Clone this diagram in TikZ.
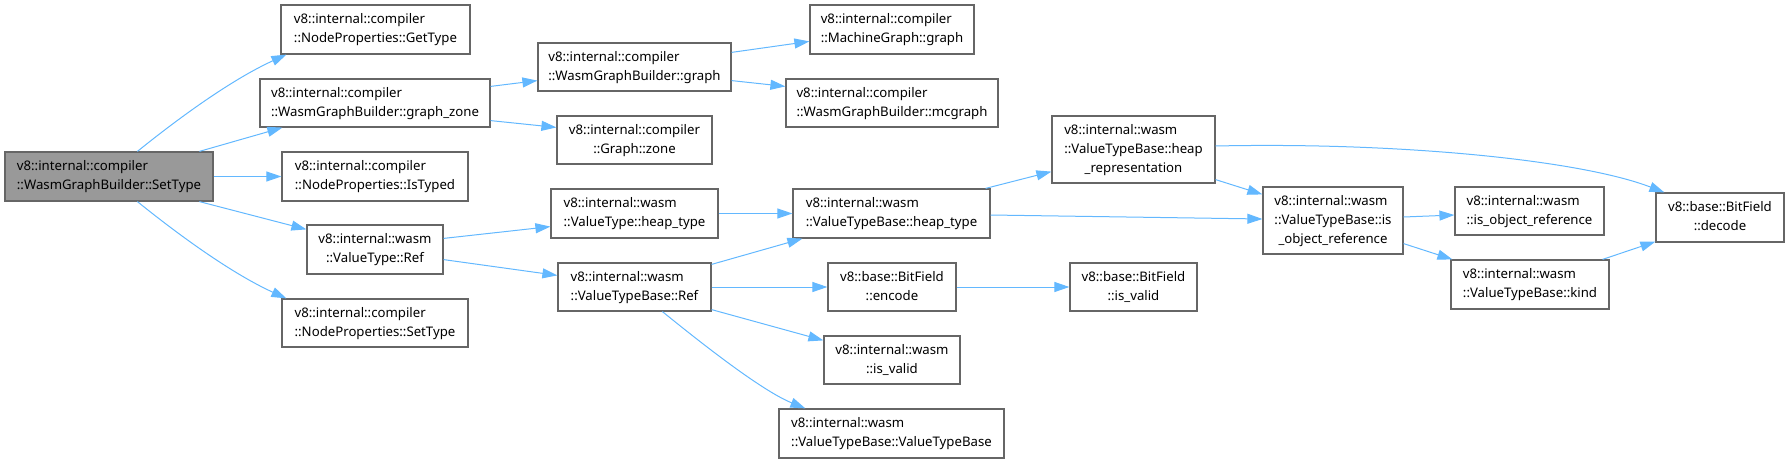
\documentclass[tikz,border=0pt]{standalone}
\usepackage{fontspec}
\setmainfont{Noto Sans}
\usetikzlibrary{arrows.meta,calc}
\definecolor{edgeblue}{HTML}{63B8FF}
\definecolor{boxborder}{HTML}{666666}
\definecolor{mainfill}{HTML}{999999}
\newcommand{\lblii}[2]{\begin{tabular}{@{}l@{}}#1\\\multicolumn{1}{@{}c@{}}{#2}\end{tabular}}
\newcommand{\lbliii}[3]{\begin{tabular}{@{}l@{}}#1\\#2\\\multicolumn{1}{@{}c@{}}{#3}\end{tabular}}
\tikzset{
  fnbox/.style={draw=boxborder, line width=1.2pt, fill=white, inner sep=0pt, minimum height=48pt,
    font=\fontsize{13.2}{19}\selectfont, text=black},
  mainbox/.style={fnbox, fill=mainfill},
  callarrow/.style={draw=edgeblue, line width=1pt, -{Triangle[length=15pt,width=10pt]}, color=edgeblue},
}
\begin{document}
\begin{tikzpicture}[x=1pt,y=-1pt]
\useasboundingbox (0,0) rectangle (1789,463);
\renewcommand{\arraystretch}{1}
% nodes
\node[mainbox, minimum width=208pt, minimum height=49pt] (main) at (109,176.5) {\lblii{v8::internal::compiler}{::WasmGraphBuilder::SetType}};
\node[fnbox, minimum width=189pt, minimum height=49pt] (getType) at (375.5,29.5) {\lblii{v8::internal::compiler}{::NodeProperties::GetType}};
\node[fnbox, minimum width=230pt] (graphZone) at (375,103) {\lblii{v8::internal::compiler}{::WasmGraphBuilder::graph\_zone}};
\node[fnbox, minimum width=186pt, minimum height=49pt] (isTyped) at (375,176.5) {\lblii{v8::internal::compiler}{::NodeProperties::IsTyped}};
\node[fnbox, minimum width=136pt, minimum height=49pt] (vtRef) at (375,249.5) {\lblii{v8::internal::wasm}{::ValueType::Ref}};
\node[fnbox, minimum width=186pt] (npSetType) at (375,323) {\lblii{v8::internal::compiler}{::NodeProperties::SetType}};
\node[fnbox, minimum width=193pt] (wgbGraph) at (634.5,67) {\lblii{v8::internal::compiler}{::WasmGraphBuilder::graph}};
\node[fnbox, minimum width=164pt, minimum height=49pt] (mgGraph) at (892,29.5) {\lblii{v8::internal::compiler}{::MachineGraph::graph}};
\node[fnbox, minimum width=212pt] (mcgraph) at (892,103) {\lblii{v8::internal::compiler}{::WasmGraphBuilder::mcgraph}};
\node[fnbox, minimum width=155pt] (gZone) at (634.5,140) {\lblii{v8::internal::compiler}{::Graph::zone}};
\node[fnbox, minimum width=167pt, minimum height=49pt] (vtHeapType) at (634.5,213.5) {\lblii{v8::internal::wasm}{::ValueType::heap\_type}};
\node[fnbox, minimum width=197pt, minimum height=49pt] (vtbHeapType) at (891.5,213.5) {\lblii{v8::internal::wasm}{::ValueTypeBase::heap\_type}};
\node[fnbox, minimum width=153pt] (vtbRef) at (634.5,287) {\lblii{v8::internal::wasm}{::ValueTypeBase::Ref}};
\node[fnbox, minimum width=128pt] (encode) at (892,287) {\lblii{v8::base::BitField}{::encode}};
\node[fnbox, minimum width=136pt] (isValid) at (892,360) {\lblii{v8::internal::wasm}{::is\_valid}};
\node[fnbox, minimum width=225pt, minimum height=49pt] (vtbVTB) at (891.5,433.5) {\lblii{v8::internal::wasm}{::ValueTypeBase::ValueTypeBase}};
\node[fnbox, minimum width=163pt, minimum height=67pt] (heapRep) at (1133.5,149.5) {\lbliii{v8::internal::wasm}{::ValueTypeBase::heap}{\_representation}};
\node[fnbox, minimum width=140pt, minimum height=67pt] (vtbIsObj) at (1333,220.5) {\lbliii{v8::internal::wasm}{::ValueTypeBase::is}{\_object\_reference}};
\node[fnbox, minimum width=127pt] (bfIsValid) at (1133.5,287) {\lblii{v8::base::BitField}{::is\_valid}};
\node[fnbox, minimum width=149pt] (isObjRef) at (1529.5,211) {\lblii{v8::internal::wasm}{::is\_object\_reference}};
\node[fnbox, minimum width=158pt, minimum height=49pt] (kind) at (1530,284.5) {\lblii{v8::internal::wasm}{::ValueTypeBase::kind}};
\node[fnbox, minimum width=128pt, minimum height=49pt] (decode) at (1720,217.5) {\lblii{v8::base::BitField}{::decode}};
% edges
\draw[callarrow] ($(main.north west)+(133,0)$) .. controls (185,113) and (235,78) .. ($(getType.south west)+(6,0)$);
\draw[callarrow] ($(main.north west)+(195,0)$) -- ($(graphZone.south west)+(23,0)$);
\draw[callarrow] (main.east) -- (isTyped.west);
\draw[callarrow] ($(main.south west)+(195,0)$) -- ($(vtRef.north west)+(0,5)$);
\draw[callarrow] ($(main.south west)+(133,0)$) .. controls (185,240) and (235,275) .. ($(npSetType.north west)+(5,0)$);
\draw[callarrow] ($(graphZone.north east)+(0,8)$) -- ($(wgbGraph.south west)+(0,-11)$);
\draw[callarrow] ($(graphZone.south east)+(0,-7)$) -- ($(gZone.north west)+(0,12)$);
\draw[callarrow] ($(wgbGraph.north east)+(0,10)$) -- ($(mgGraph.north west)+(0,37)$);
\draw[callarrow] ($(wgbGraph.south east)+(0,-11)$) -- ($(mcgraph.north west)+(0,8)$);
\draw[callarrow] ($(vtRef.north east)+(0,14)$) -- ($(vtHeapType.south west)+(0,-12)$);
\draw[callarrow] ($(vtRef.south east)+(0,-15)$) -- ($(vtbRef.north west)+(0,13)$);
\draw[callarrow] (vtHeapType.east) -- (vtbHeapType.west);
\draw[callarrow] ($(vtbRef.north east)+(0,2)$) -- ($(vtbHeapType.south west)+(10,0)$);
\draw[callarrow] (vtbRef.east) -- (encode.west);
\draw[callarrow] ($(vtbRef.south east)+(0,-2)$) -- ($(isValid.north west)+(0,5)$);
\draw[callarrow] ($(vtbRef.south west)+(105,0)$) .. controls (695,338) and (760,390) .. ($(vtbVTB.north west)+(27,0)$);
\draw[callarrow] ($(vtbHeapType.north east)+(-5,0)$) -- ($(heapRep.south west)+(0,-12)$);
\draw[callarrow] ($(vtbHeapType.east)+(0,1.5)$) -- ($(vtbIsObj.west)+(0,-1.5)$);
\draw[callarrow] (encode.east) -- (bfIsValid.west);
\draw[callarrow] ($(heapRep.south east)+(0,-4)$) -- ($(vtbIsObj.north west)+(0,8)$);
\draw[callarrow] ($(heapRep.east)+(0,-3.5)$) .. controls (1400,142) and (1580,160) .. ($(decode.north west)+(9,0)$);
\draw[callarrow] ($(vtbIsObj.east)+(0,-3.5)$) -- ($(isObjRef.west)+(0,4)$);
\draw[callarrow] ($(vtbIsObj.south east)+(0,-11)$) -- ($(kind.north west)+(2,0)$);
\draw[callarrow] ($(kind.north east)+(-7,0)$) -- ($(decode.south west)+(0,-1)$);
\end{tikzpicture}
\end{document}
